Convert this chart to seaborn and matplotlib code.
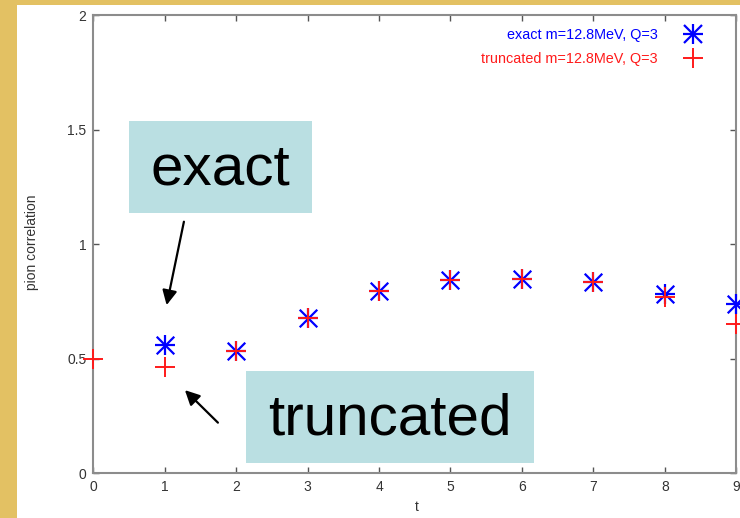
import numpy as np
import pandas as pd
import matplotlib

matplotlib.use("Agg")
import matplotlib.pyplot as plt
from matplotlib.patches import Rectangle
from matplotlib.lines import Line2D
import seaborn as sns

# values
t_exact = [1, 2, 3, 4, 5, 6, 7, 8, 9]
exact = [0.559, 0.534, 0.679, 0.795, 0.842, 0.849, 0.835, 0.784, 0.740]
t_trunc = [0, 1, 2, 3, 4, 5, 6, 7, 8, 9]
truncated = [0.499, 0.464, 0.534, 0.679, 0.795, 0.842, 0.849, 0.835, 0.769, 0.650]

x_ticks = list(range(10))
y_ticks = [0, 0.5, 1, 1.5, 2]
y_tick_labels = ["0", "0.5", "1", "1.5", "2"]
label_exact = "exact m=12.8MeV, Q=3"
label_trunc = "truncated m=12.8MeV, Q=3"

sns.set_theme(style="ticks")
plt.rcParams["font.family"] = ["Liberation Sans", "DejaVu Sans"]

GOLD = "#e3c163"
BOX = "#badfe2"
BLUE = "#0000ff"
RED = "#ff1a1a"

fig = plt.figure(figsize=(7.4, 5.18), dpi=100, facecolor=GOLD)
# white slide panel
fig.patches.append(
    Rectangle((17 / 740, 0), 1, 1 - 5 / 518, transform=fig.transFigure,
              facecolor="white", edgecolor="none", zorder=-1)
)
ax = fig.add_axes([0.126, 0.0863, 0.869, 0.8847])
ax.set_facecolor("none")

df_exact = pd.DataFrame({"t": t_exact, "corr": exact})
df_trunc = pd.DataFrame({"t": t_trunc, "corr": truncated})

# exact: gnuplot asterisk = plus + cross
for m in ["+", "x"]:
    sns.scatterplot(data=df_exact, x="t", y="corr", marker=m, color=BLUE,
                    s=220 if m == "+" else 160, linewidth=1.6, clip_on=False,
                    zorder=3, ax=ax)
sns.scatterplot(data=df_trunc, x="t", y="corr", marker="+", color=RED,
                s=220, linewidth=1.4, clip_on=False, zorder=4, ax=ax)

ax.set_xlim(0, 9)
ax.set_ylim(0, 2)
ax.set_xticks(x_ticks)
ax.set_yticks(y_ticks)
ax.set_yticklabels(y_tick_labels)
ax.tick_params(direction="in", length=4, width=1, color="#555555",
               top=True, right=True, labelsize=10, labelcolor="#333333", pad=5)
for sp in ax.spines.values():
    sp.set_color("#8c8c8c")
    sp.set_linewidth(1.5)

ax.set_xlabel("t", fontsize=10, color="#333333")
ax.set_ylabel("pion correlation", fontsize=10, color="#333333")
ax.xaxis.set_label_coords(0.503, -0.058)
ax.yaxis.set_label_coords(-0.085, 0.505)

# gnuplot style key: text then symbol
h_exact = (Line2D([], [], ls="", marker="+", ms=15, mew=1.6, color=BLUE),
           Line2D([], [], ls="", marker="x", ms=12.5, mew=1.6, color=BLUE))
h_trunc = Line2D([], [], ls="", marker="+", ms=15, mew=1.4, color=RED)
leg = ax.legend([h_exact, h_trunc], [label_exact, label_trunc],
                loc="upper right", bbox_to_anchor=(0.955, 0.9726),
                markerfirst=False, frameon=False, fontsize=10.4,
                handlelength=2, handletextpad=1.43, labelspacing=0.7,
                borderpad=0, borderaxespad=0)
leg.get_texts()[0].set_color(BLUE)
leg.get_texts()[1].set_color(RED)

# annotation boxes
ax.add_patch(Rectangle((0.50, 1.137), 2.56, 0.40, facecolor=BOX,
                       edgecolor="none", zorder=5))
ax.text(1.78, 1.325, "exact", fontsize=42, ha="center", va="center",
        color="black", zorder=6)
ax.add_patch(Rectangle((2.137, 0.046), 4.03, 0.40, facecolor=BOX,
                       edgecolor="none", zorder=5))
ax.text(4.15, 0.235, "truncated", fontsize=42, ha="center", va="center",
        color="black", zorder=6)

arrow = dict(arrowstyle="-|>", color="black", lw=1.6, mutation_scale=22,
             shrinkA=0, shrinkB=0)
ax.annotate("", xy=(1.027, 0.734), xytext=(1.269, 1.098), arrowprops=arrow,
            zorder=6)
ax.annotate("", xy=(1.283, 0.363), xytext=(1.745, 0.221), arrowprops=arrow,
            zorder=6)

fig.savefig("out.png", dpi=100, facecolor=GOLD)
